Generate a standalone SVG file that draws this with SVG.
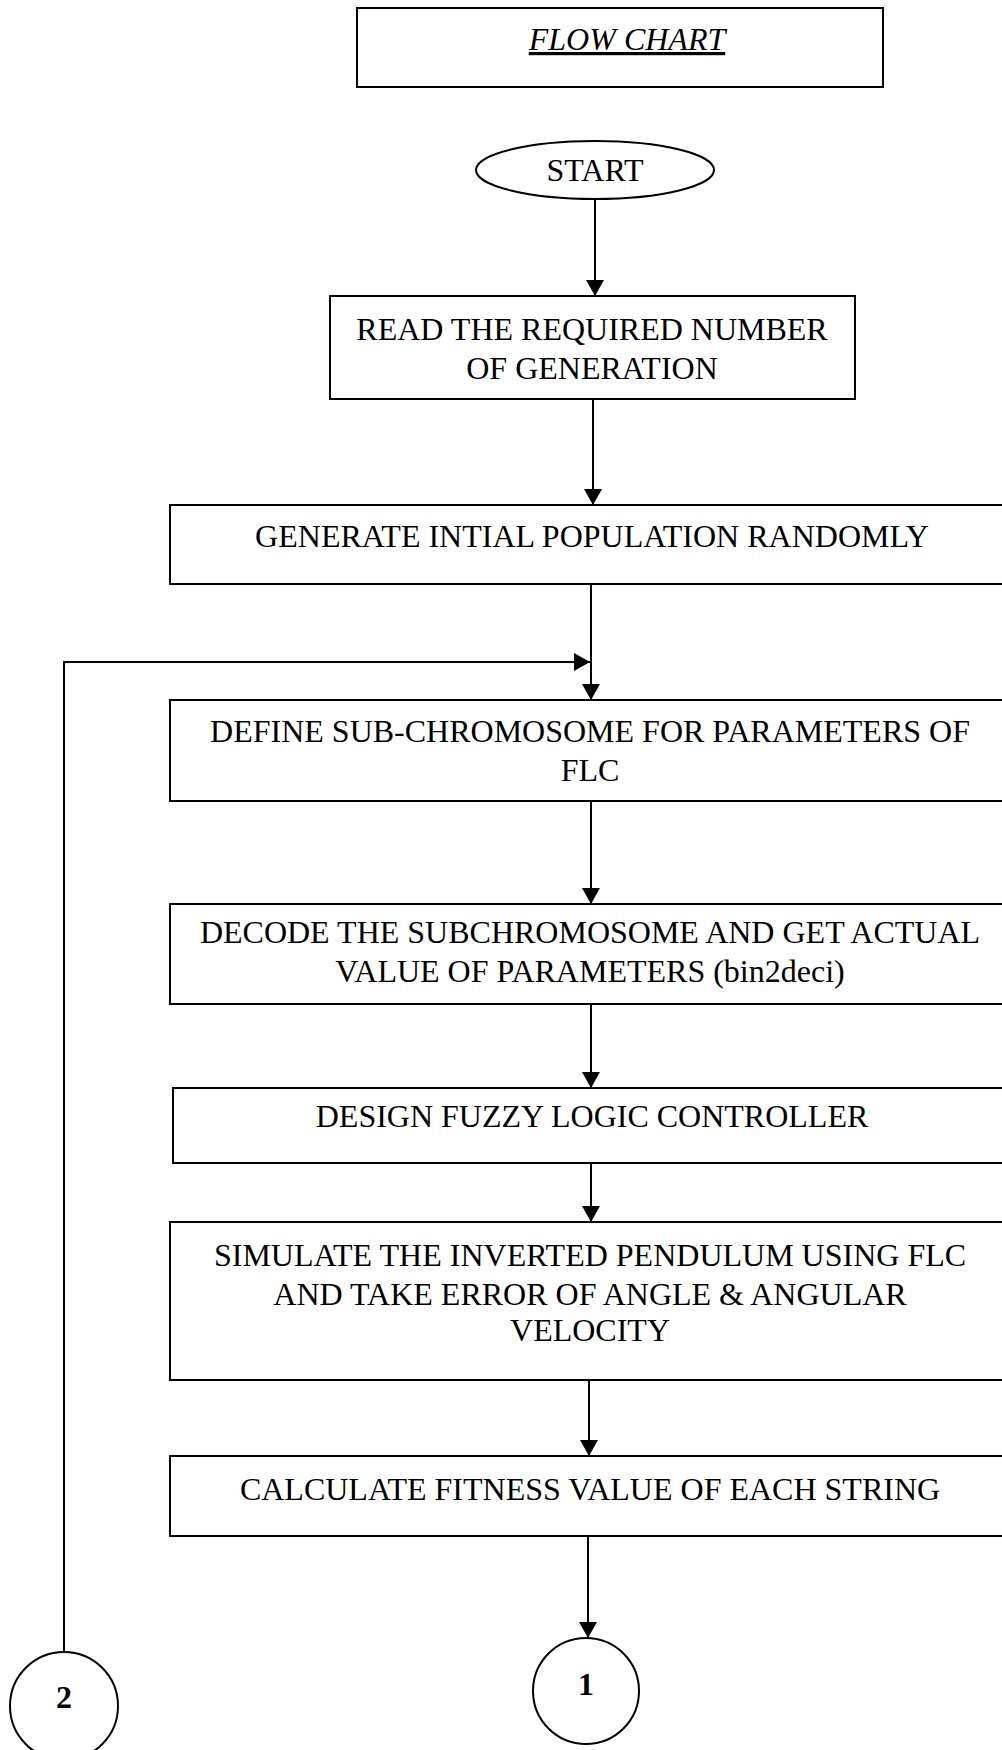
<svg xmlns="http://www.w3.org/2000/svg" width="1002" height="1750" viewBox="0 0 1002 1750">
<style>
.box{fill:#fff;stroke:#000;stroke-width:2}
.t{font-family:"Liberation Serif","Times New Roman",serif;font-size:32px;fill:#000;text-anchor:middle}
.c{fill:none;stroke:#000;stroke-width:2}
</style>
<defs>
<marker id="ah" viewBox="0 0 16 18" refX="16" refY="9" markerWidth="16" markerHeight="18" markerUnits="userSpaceOnUse" orient="auto">
<path d="M0,0 L16,9 L0,18 Z" fill="#000"/>
</marker>
</defs>
<rect width="1002" height="1750" fill="#fff"/>
<g id="title">
<rect class="box" x="357" y="8" width="526" height="79"/>
<text class="t" x="627" y="50" font-style="italic" text-decoration="underline" font-size="28">FLOW CHART</text>
</g>
<g id="start">
<ellipse class="box" cx="595" cy="170" rx="119" ry="29"/>
<text class="t" x="595" y="181">START</text>
</g>
<g id="read">
<rect class="box" x="330" y="296" width="525" height="103"/>
<text class="t" x="592" y="340">READ THE REQUIRED NUMBER</text>
<text class="t" x="592" y="379">OF GENERATION</text>
</g>
<g id="generate">
<rect class="box" x="170" y="505" width="850" height="79"/>
<text class="t" x="592" y="547">GENERATE INTIAL POPULATION RANDOMLY</text>
</g>
<g id="define">
<rect class="box" x="170" y="700" width="850" height="101"/>
<text class="t" x="590" y="742">DEFINE SUB-CHROMOSOME FOR PARAMETERS OF</text>
<text class="t" x="590" y="781">FLC</text>
</g>
<g id="decode">
<rect class="box" x="170" y="904" width="850" height="100"/>
<text class="t" x="590" y="943">DECODE THE SUBCHROMOSOME AND GET ACTUAL</text>
<text class="t" x="590" y="982">VALUE OF PARAMETERS (bin2deci)</text>
</g>
<g id="design">
<rect class="box" x="173" y="1088" width="850" height="75"/>
<text class="t" x="592" y="1127">DESIGN FUZZY LOGIC CONTROLLER</text>
</g>
<g id="simulate">
<rect class="box" x="170" y="1222" width="850" height="158"/>
<text class="t" x="590" y="1266">SIMULATE THE INVERTED PENDULUM USING FLC</text>
<text class="t" x="590" y="1305">AND TAKE ERROR OF ANGLE &amp; ANGULAR</text>
<text class="t" x="590" y="1341">VELOCITY</text>
</g>
<g id="calculate">
<rect class="box" x="170" y="1456" width="850" height="80"/>
<text class="t" x="590" y="1500">CALCULATE FITNESS VALUE OF EACH STRING</text>
</g>
<g id="conn1">
<ellipse class="box" cx="586" cy="1691" rx="53" ry="53"/>
<text class="t" x="586" y="1695" font-weight="bold">1</text>
</g>
<g id="conn2">
<ellipse class="box" cx="64" cy="1706" rx="54" ry="54"/>
<text class="t" x="64" y="1708" font-weight="bold">2</text>
</g>
<g id="connectors">
<path class="c" d="M595,199 V296" marker-end="url(#ah)"/>
<path class="c" d="M593,399 V505" marker-end="url(#ah)"/>
<path class="c" d="M591,584 V700" marker-end="url(#ah)"/>
<path class="c" d="M64,1652 V662 H590" marker-end="url(#ah)"/>
<path class="c" d="M591,801 V904" marker-end="url(#ah)"/>
<path class="c" d="M591,1004 V1088" marker-end="url(#ah)"/>
<path class="c" d="M591,1163 V1222" marker-end="url(#ah)"/>
<path class="c" d="M589,1380 V1456" marker-end="url(#ah)"/>
<path class="c" d="M588,1536 V1638" marker-end="url(#ah)"/>
</g>
</svg>
